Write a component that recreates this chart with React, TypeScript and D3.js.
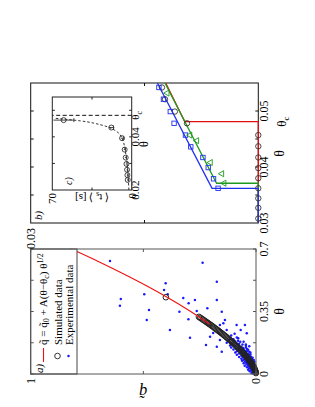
import React from 'react';
import * as d3 from 'd3';

const W = 315;
const H = 407;
const FONT = '"Liberation Serif", "Times New Roman", serif';

// ---- panel a ----
const aThetaTicks = [0, 0.175, 0.35, 0.525, 0.7];
const aThetaLabels = [0, 0.35, 0.7];
const aQTicks = [0, 0.5, 1];
const aQLabels = [0, 1];

const fitTheta = [0.28, 0.35, 0.42, 0.49, 0.56, 0.63, 0.7];
const fitQ = [0.207, 0.29, 0.381, 0.48, 0.587, 0.7, 0.82];

const simTheta = [
  0.005, 0.01, 0.015, 0.02, 0.025, 0.03, 0.035, 0.04, 0.045, 0.05, 0.055, 0.06,
  0.065, 0.07, 0.075, 0.08, 0.085, 0.09, 0.095, 0.1, 0.105, 0.11, 0.115, 0.12,
  0.125, 0.13, 0.135, 0.14, 0.145, 0.15, 0.155, 0.16, 0.165, 0.17, 0.175, 0.18,
  0.185, 0.19, 0.195, 0.2, 0.205, 0.21, 0.215, 0.22, 0.225, 0.23, 0.235, 0.24,
  0.245, 0.25, 0.255, 0.26, 0.265, 0.27, 0.275, 0.28, 0.285, 0.29, 0.295, 0.3,
  0.305, 0.31, 0.315, 0.32, 0.43,
];
const simQ = [
  0.0005, 0.0014, 0.0026, 0.004, 0.0055, 0.0073, 0.0092, 0.0112, 0.0134, 0.0157,
  0.0181, 0.0206, 0.0232, 0.0259, 0.0288, 0.0317, 0.0347, 0.0378, 0.041, 0.0443,
  0.0476, 0.0511, 0.0546, 0.0582, 0.0619, 0.0656, 0.0694, 0.0733, 0.0773, 0.0813,
  0.0854, 0.0896, 0.0938, 0.0981, 0.1025, 0.1069, 0.1114, 0.1159, 0.1206, 0.1252,
  0.1299, 0.1347, 0.1396, 0.1445, 0.1494, 0.1544, 0.1595, 0.1646, 0.1698, 0.175,
  0.1803, 0.1856, 0.191, 0.1964, 0.2019, 0.2074, 0.213, 0.2186, 0.2243, 0.23,
  0.2358, 0.2416, 0.2475, 0.2534, 0.4,
];

const expPoints: [number, number][] = [
  [0.633, 0.648], [0.623, 0.237], [0.517, 0.174], [0.508, 0.401], [0.47, 0.408],
  [0.446, 0.392], [0.446, 0.496], [0.42, 0.6], [0.382, 0.604], [0.426, 0.323],
  [0.414, 0.271], [0.414, 0.174], [0.396, 0.299], [0.368, 0.216], [0.358, 0.475],
  [0.349, 0.34], [0.353, 0.263], [0.302, 0.485], [0.306, 0.3], [0.246, 0.382],
  [0.203, 0.293], [0.162, 0.222], [0.153, 0.174], [0.125, 0.152], [0.274, 0.16],
  [0.302, 0.138], [0.274, 0.086], [0.274, 0.049], [0.246, 0.068], [0.228, 0.041],
  [0.246, 0.13], [0.2, 0.079], [0.209, 0.204], [0.349, 0.152], [0.284, 0.145],
  [0.23, 0.19], [0.19, 0.16],
  [0.19, 0.12], [0.185, 0.095], [0.18, 0.07], [0.175, 0.13], [0.17, 0.105],
  [0.168, 0.085], [0.165, 0.06], [0.16, 0.115], [0.158, 0.045], [0.155, 0.095],
  [0.15, 0.075], [0.148, 0.11], [0.145, 0.058], [0.142, 0.088], [0.14, 0.04],
  [0.137, 0.1], [0.134, 0.07], [0.13, 0.05], [0.128, 0.085], [0.125, 0.03],
  [0.122, 0.065], [0.12, 0.092], [0.118, 0.045], [0.115, 0.075], [0.112, 0.055],
  [0.11, 0.025], [0.108, 0.085], [0.105, 0.04], [0.102, 0.065], [0.1, 0.05],
  [0.098, 0.03], [0.095, 0.075], [0.093, 0.058], [0.09, 0.04], [0.088, 0.02],
  [0.086, 0.065], [0.084, 0.048], [0.082, 0.032], [0.08, 0.055], [0.078, 0.015],
  [0.076, 0.04], [0.074, 0.062], [0.072, 0.028], [0.07, 0.05], [0.068, 0.035],
  [0.066, 0.012], [0.064, 0.045], [0.062, 0.025], [0.06, 0.055], [0.058, 0.035],
  [0.056, 0.018], [0.054, 0.042], [0.052, 0.028], [0.05, 0.01], [0.048, 0.035],
  [0.046, 0.05], [0.044, 0.02], [0.042, 0.03], [0.04, 0.012], [0.038, 0.04],
  [0.036, 0.022], [0.034, 0.008], [0.032, 0.03], [0.03, 0.016], [0.028, 0.024],
  [0.026, 0.006], [0.024, 0.035], [0.022, 0.014], [0.02, 0.02], [0.018, 0.004],
  [0.016, 0.028], [0.014, 0.01], [0.012, 0.016], [0.01, 0.006], [0.008, 0.012],
  [0.006, 0.003], [0.005, 0.02], [0.004, 0.008], [0.003, 0.002], [0.002, 0.012],
  [0.012, 0.003], [0.015, 0.007], [0.018, 0.011], [0.021, 0.005], [0.024, 0.009],
  [0.027, 0.013], [0.03, 0.004], [0.033, 0.018], [0.035, 0.012], [0.037, 0.006],
  [0.039, 0.025], [0.041, 0.017], [0.043, 0.008], [0.045, 0.027], [0.047, 0.014],
  [0.049, 0.022], [0.051, 0.004], [0.053, 0.015], [0.055, 0.03], [0.057, 0.009],
  [0.059, 0.021], [0.061, 0.013], [0.063, 0.034], [0.065, 0.02], [0.067, 0.026],
  [0.069, 0.007], [0.071, 0.017], [0.073, 0.038], [0.075, 0.024], [0.077, 0.03],
  [0.079, 0.01], [0.081, 0.042], [0.083, 0.022], [0.085, 0.036], [0.087, 0.028],
  [0.089, 0.05], [0.091, 0.015], [0.094, 0.045], [0.097, 0.022], [0.1, 0.035],
  [0.103, 0.055], [0.106, 0.028], [0.109, 0.045], [0.113, 0.035], [0.116, 0.06],
  [0.12, 0.025], [0.124, 0.048], [0.128, 0.04], [0.132, 0.062], [0.136, 0.035],
  [0.14, 0.055], [0.144, 0.075], [0.148, 0.045], [0.152, 0.065], [0.156, 0.03],
  [0.16, 0.08], [0.165, 0.045], [0.17, 0.075], [0.175, 0.09], [0.18, 0.055],
  [0.186, 0.08], [0.195, 0.1], [0.205, 0.085], [0.215, 0.11], [0.225, 0.095],
];

// ---- panel b ----
const bThetaTicks = [0.035, 0.04, 0.045, 0.05];
const bThetaLabels = [0.03, 0.04, 0.05];
const bQTicks = [0.015];
const thetaC = 0.0481;

const redTheta = [0.03, thetaC, thetaC, 0.055];
const redQ = [0, 0, 0.0097, 0.0122];
const greenTheta = [0.03, 0.0371, 0.0371, 0.055];
const greenQ = [0, 0, 0.0055, 0.0123];
const blueTheta = [0.03, 0.0362, 0.0362, 0.055];
const blueQ = [0, 0, 0.0061, 0.0133];

const circTheta = [0.0308, 0.0327, 0.0344, 0.0362, 0.038, 0.0398, 0.0417, 0.0437, 0.0457, 0.0478, 0.0499, 0.0521, 0.0542];
const circQ = [0, 0, 0, 0, 0, 0, 0, 0, 0, 0.0094, 0.011, 0.0123, 0.0127];
const sqTheta = [0.0362, 0.0379, 0.0399, 0.0417, 0.0436, 0.0457, 0.0478, 0.0499, 0.0521, 0.0542];
const sqQ = [0.0053, 0.0059, 0.0066, 0.0073, 0.0089, 0.0096, 0.0111, 0.0116, 0.0125, 0.0131];
const triTheta = [0.0371, 0.0388, 0.0408, 0.0447, 0.0457, 0.0532];
const triQ = [0.0045, 0.0048, 0.0063, 0.0081, 0.009, 0.012];

// ---- inset c ----
const cThetaTicks = [0.03, 0.04, 0.05];
const cThetaLabels = [0.02, 0.04];
const cTTicks = [35];
const cTLabels = [0, 70];
const cCurveTheta = [0.02, 0.025, 0.03, 0.035, 0.0395, 0.0425, 0.0445, 0.046, 0.047];
const cCurveT = [2.5, 3.1, 4, 5.8, 8.5, 15, 27, 45, 68];
const cPtTheta = [0.0238, 0.0256, 0.0276, 0.0298, 0.0322, 0.0352, 0.0395, 0.0435, 0.0463];
const cPtT = [3.5, 3.8, 4.1, 4.6, 5.3, 6.2, 8.5, 18, 60];
const cPtErr = [0.5, 0.5, 0.5, 0.6, 0.7, 0.8, 1.2, 2, 9];

const xA = d3.scaleLinear().domain([0, 0.7]).range([33, 158]);
const yA = d3.scaleLinear().domain([0, 1]).range([256, 30.7]);
const xB = d3.scaleLinear().domain([0.03, 0.055]).range([184, 324]);
const yB = d3.scaleLinear().domain([0, 0.03]).range([258.3, 30.7]);
const xC = d3.scaleLinear().domain([0.02, 0.055]).range([217, 310]);
const yC = d3.scaleLinear().domain([0, 70]).range([131.7, 52.3]);

type Scale = d3.ScaleLinear<number, number>;

const Frame = ({x, y, xt, yt, stroke, tl = 3}: {x: Scale; y: Scale; xt: number[]; yt: number[]; stroke: string; tl?: number}) => {
  const [x0, x1] = x.range();
  const [y0, y1] = y.range();
  return (
    <g stroke={stroke} strokeWidth={1} fill="none">
      <rect x={x0} y={y1} width={x1 - x0} height={y0 - y1} />
      {xt.map((t) => (
        <g key={'x' + t}>
          <line x1={x(t)} x2={x(t)} y1={y0} y2={y0 - tl} />
          <line x1={x(t)} x2={x(t)} y1={y1} y2={y1 + tl} />
        </g>
      ))}
      {yt.map((t) => (
        <g key={'y' + t}>
          <line x1={x0} x2={x0 + tl} y1={y(t)} y2={y(t)} />
          <line x1={x1} x2={x1 - tl} y1={y(t)} y2={y(t)} />
        </g>
      ))}
    </g>
  );
};

const lineOf = (xs: number[], ys: number[], x: Scale, y: Scale, curve: d3.CurveFactory = d3.curveLinear) =>
  d3.line<number>().x((d, i) => x(xs[i])).y((d, i) => y(ys[i])).curve(curve)(xs) || '';

const tri = d3.symbol().type(d3.symbolTriangle).size(16)() || '';

export default function App() {
  return (
    <svg width={W} height={H} style={{position: 'absolute', left: 0, top: 0, background: '#fff'}}
      fontFamily={FONT}>
      <g transform={`translate(0,${H}) rotate(-90)`}>
        {/* ===== panel a ===== */}
        {expPoints.map(([t, q], i) => (
          <circle key={'e' + i} cx={xA(t)} cy={yA(q)} r={1.25} fill="#1a1aff" />
        ))}
        {simTheta.map((t, i) => (
          <circle key={'s' + i} cx={xA(t)} cy={yA(simQ[i])} r={2.8} fill="none" stroke="#222" strokeWidth={1} />
        ))}
        <path d={lineOf(fitTheta, fitQ, xA, yA, d3.curveMonotoneX)} fill="none" stroke="#f01010" strokeWidth={1.1} />
        <rect x={33} y={30.7} width={125} height={46.3} fill="#fff" stroke="#444" strokeWidth={1} />
        <Frame x={xA} y={yA} xt={aThetaTicks} yt={aQTicks} stroke="#555" />
        <text x={34} y={43} fontSize={11} fontStyle="italic">a)</text>
        <line x1={45} x2={59} y1={43.5} y2={43.5} stroke="#f01010" strokeWidth={1.1} />
        <text x={62} y={47} fontSize={11}>
          {'q\u0303 = q\u0303'}<tspan fontSize={8} dy={2}>0</tspan>
          <tspan dy={-2}>{' + A(θ−θ'}</tspan><tspan fontSize={8} dy={2}>c</tspan>
          <tspan dy={-2}>{') θ'}</tspan><tspan fontSize={8} dy={-4}>1/2</tspan>
        </text>
        <circle cx={51} cy={57.5} r={2.8} fill="none" stroke="#222" strokeWidth={0.9} />
        <text x={62} y={61.5} fontSize={11}>Simulated data</text>
        <circle cx={51} cy={68.5} r={1.25} fill="#1a1aff" />
        <text x={62} y={72.5} fontSize={11}>Experimental data</text>
        {aThetaLabels.map((t) => (
          <text key={'al' + t} x={xA(t)} y={268} fontSize={12} textAnchor="middle">{t}</text>
        ))}
        {aQLabels.map((q) => (
          <text key={'aq' + q} x={29} y={yA(q) + 4} fontSize={12} textAnchor="end">{q}</text>
        ))}
        <text x={95.5} y={284} fontSize={14} textAnchor="middle">θ</text>
        <text transform={`translate(20,${yA(0.5)}) rotate(-90)`} fontSize={16} fontStyle="italic" textAnchor="middle">{'q\u0303'}</text>

        {/* ===== panel b ===== */}
        <Frame x={xB} y={yB} xt={bThetaTicks} yt={bQTicks} stroke="#111" />
        <path d={lineOf(redTheta, redQ, xB, yB)} fill="none" stroke="#e01010" strokeWidth={1.3} />
        <path d={lineOf(greenTheta, greenQ, xB, yB)} fill="none" stroke="#1f9a1f" strokeWidth={1.3} />
        <path d={lineOf(blueTheta, blueQ, xB, yB)} fill="none" stroke="#2030f0" strokeWidth={1.3} />
        {circTheta.map((t, i) => (
          <circle key={'bc' + i} cx={xB(t)} cy={yB(circQ[i])} r={2.7} fill="none" stroke="#333" strokeWidth={0.9} />
        ))}
        {sqTheta.map((t, i) => (
          <rect key={'bs' + i} x={xB(t) - 2.2} y={yB(sqQ[i]) - 2.2} width={4.4} height={4.4} fill="none" stroke="#2030f0" strokeWidth={0.9} />
        ))}
        {triTheta.map((t, i) => (
          <path key={'bt' + i} d={tri} transform={`translate(${xB(t)},${yB(triQ[i])})`} fill="none" stroke="#1f9a1f" strokeWidth={0.9} />
        ))}
        <text x={187} y={42} fontSize={11} fontStyle="italic">b)</text>
        {bThetaLabels.map((t) => (
          <text key={'bl' + t} x={xB(t)} y={268} fontSize={12} textAnchor="middle">{t}</text>
        ))}
        <text x={xB(thetaC)} y={286} fontSize={13} textAnchor="middle">θ<tspan fontSize={9} dy={3}>c</tspan></text>
        <text x={179} y={yB(0.03) + 4} fontSize={12} textAnchor="end">0.03</text>
        <text x={253.5} y={284} fontSize={14} textAnchor="middle">θ</text>

        {/* ===== inset c ===== */}
        <rect x={217} y={52.3} width={93} height={79.4} fill="#fff" />
        <Frame x={xC} y={yC} xt={cThetaTicks} yt={cTTicks} stroke="#222" tl={2.5} />
        <line x1={xC(thetaC)} x2={xC(thetaC)} y1={yC(0)} y2={yC(70)} stroke="#111" strokeDasharray="4,2.5" strokeWidth={1} />
        <path d={lineOf(cCurveTheta, cCurveT, xC, yC, d3.curveMonotoneX)} fill="none" stroke="#333" strokeDasharray="2.5,2" strokeWidth={1} />
        {cPtTheta.map((t, i) => (
          <g key={'cp' + i} stroke="#333" strokeWidth={0.9} fill="none">
            <line x1={xC(t)} x2={xC(t)} y1={yC(cPtT[i] - cPtErr[i])} y2={yC(Math.min(70, cPtT[i] + cPtErr[i]))} />
            <line x1={xC(t) - 2} x2={xC(t) + 2} y1={yC(cPtT[i] - cPtErr[i])} y2={yC(cPtT[i] - cPtErr[i])} />
            <circle cx={xC(t)} cy={yC(cPtT[i])} r={2.5} />
          </g>
        ))}
        <text x={222} y={72} fontSize={10} fontStyle="italic">c)</text>
        {cThetaLabels.map((t) => (
          <text key={'cl' + t} x={xC(t)} y={139} fontSize={11} textAnchor="middle">{t}</text>
        ))}
        <text x={xC(thetaC)} y={139} fontSize={11} textAnchor="middle">θ<tspan fontSize={8} dy={3}>c</tspan></text>
        <text x={263} y={148} fontSize={12} textAnchor="middle">θ</text>
        {cTLabels.map((v) => (
          <text key={'ct' + v} x={214} y={yC(v) + 4} fontSize={11} textAnchor="end">{v}</text>
        ))}
        <text transform={`translate(213,${yC(35)}) rotate(-90)`} fontSize={11} textAnchor="middle">
          {'⟨ t'}<tspan fontSize={8} dy={2}>s</tspan><tspan dy={-2}>{' ⟩ [s]'}</tspan>
        </text>
      </g>
    </svg>
  );
}
